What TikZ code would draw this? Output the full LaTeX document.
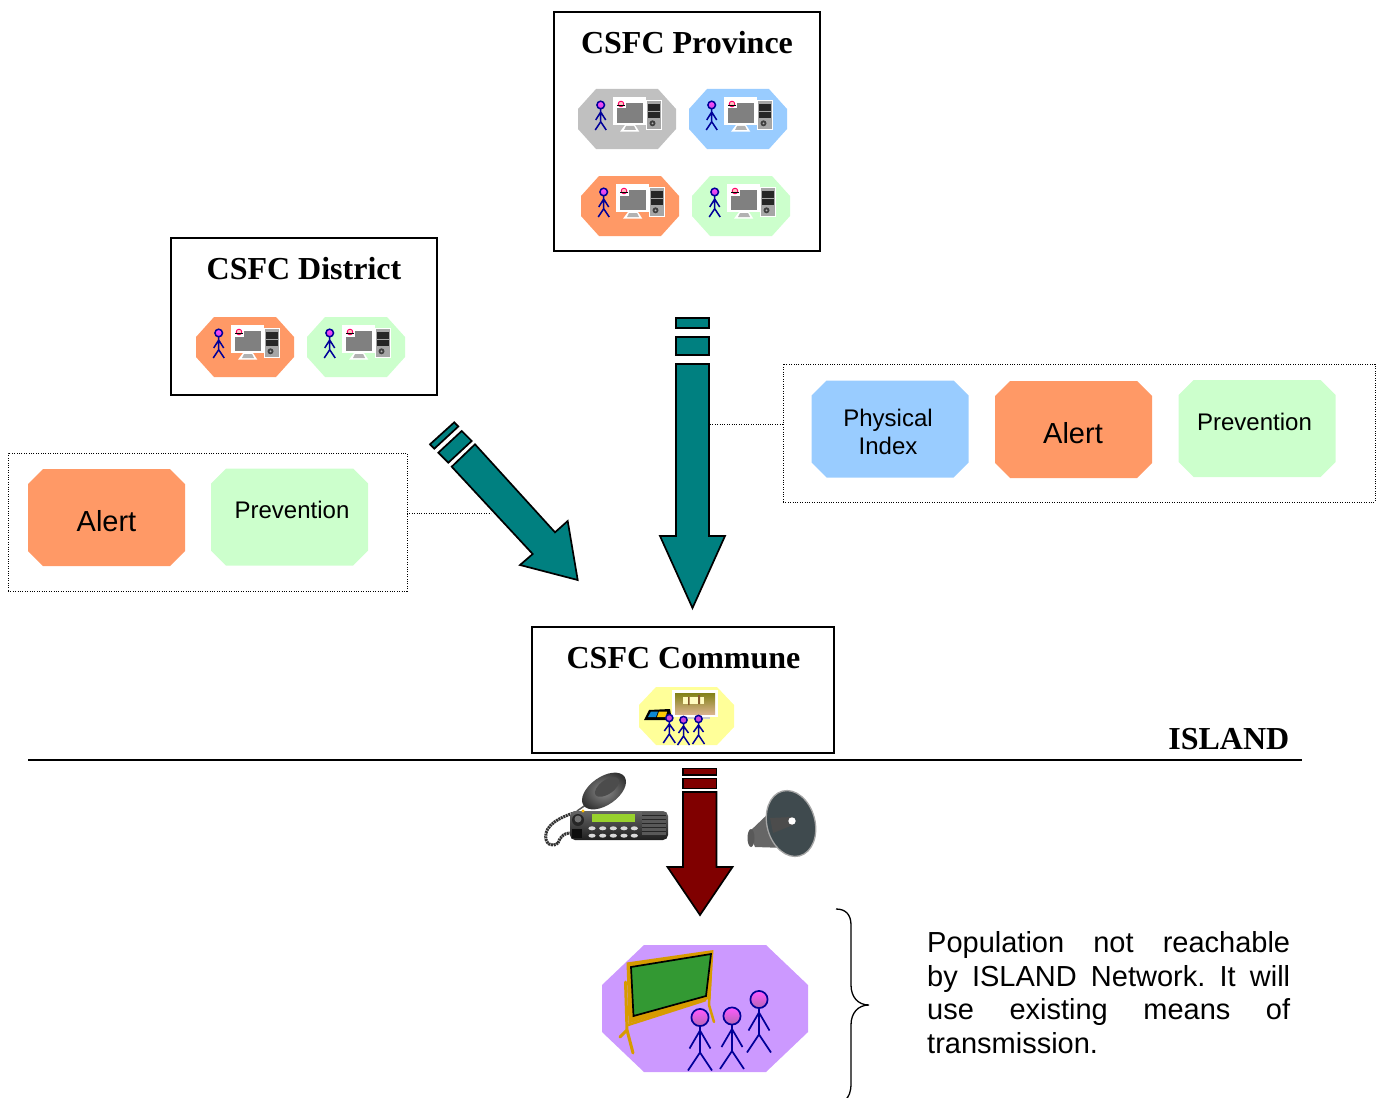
\documentclass[tikz,border=0pt]{standalone}
\usepackage{fontspec}
\setmainfont{Liberation Serif}
\setsansfont{Liberation Sans}
\definecolor{cOrange}{HTML}{FF9966}
\definecolor{cGreen}{HTML}{CCFFCC}
\definecolor{cBlue}{HTML}{99CCFF}
\definecolor{cGray}{HTML}{C0C0C0}
\definecolor{cPurple}{HTML}{CC99FF}
\definecolor{cYellow}{HTML}{FFFF99}
\definecolor{cTeal}{HTML}{008080}
\definecolor{cRed}{HTML}{800000}
\definecolor{cMan}{HTML}{000099}
\definecolor{cHead}{HTML}{CC44DD}
\definecolor{cGold}{HTML}{D79B00}
\definecolor{cBoard}{HTML}{339933}
\definecolor{cHorn}{HTML}{3F4A4E}
\newcommand{\ttl}{\fontsize{32}{36}\selectfont\bfseries}
\newcommand{\lab}{\sffamily\fontsize{24}{28.5}\selectfont}
\newcommand{\alrt}{\sffamily\fontsize{29}{32}\selectfont}
% name, x, y, width, height, chamfer x, chamfer y, colour
\newcommand{\octnode}[8]{%
  \fill[#8,shift={(#2,#3)}]
    ({-#4/2+#6},{-#5/2}) -- ({#4/2-#6},{-#5/2}) -- ({#4/2},{-#5/2+#7}) -- ({#4/2},{#5/2-#7})
    -- ({#4/2-#6},{#5/2}) -- ({-#4/2+#6},{#5/2}) -- ({-#4/2},{#5/2-#7}) -- ({-#4/2},{-#5/2+#7}) -- cycle;
  \node[inner sep=0pt,outer sep=0pt,minimum width=#4pt,minimum height=#5pt] (#1) at (#2,#3) {};
}
\tikzset{
  x=1pt,y=-1pt,
  lbl/.style={inner sep=0pt,align=center,text=black},
  titlebox/.style={draw=black,line width=1.8pt,fill=white,inner sep=0pt,outer sep=0pt},
  titletext/.style={inner sep=0pt,font=\ttl,anchor=base},
  dotbox/.style={draw=black,line width=1pt,dash pattern=on 1pt off 1.4pt,inner sep=0pt,outer sep=0pt},
  leader/.style={draw=black,line width=1pt,dash pattern=on 1pt off 1.4pt},
  blockarrow/.style={draw=black,line width=1.7pt,line join=miter},
  man/.style={draw=cMan,line width=1.5pt},
  pics/stick/.style={code={
    \draw[man] (0,-10)--(0,2.7) (-5,1)--(0,-7)--(5,1) (-5.5,11)--(0,2.7)--(5.5,11);
    \draw[man,top color=magenta!70!white,bottom color=cHead] (0,-14) circle (3.8);
  }},
  pics/bigstick/.style={code={
    \draw[draw=cMan,line width=1.7pt] (0,8)--(0,35) (-10.5,31)--(0,13)--(10.5,31) (-12,53)--(0,35)--(12,53);
    \draw[draw=cMan,line width=1.7pt,top color=magenta!65!white,bottom color=violet!60] (0,0) circle (8.6);
  }},
  pics/midstick/.style={code={
    \draw[draw=cMan,line width=1.5pt] (0,3)--(0,16) (-5,13)--(0,6)--(5,13) (-6,25)--(0,16)--(6,25);
    \draw[draw=cMan,line width=1.5pt,fill=cHead] (0,0) circle (3.6);
  }},
  pics/computer/.style={code={
    \fill[white] (-13.7,-21.7) rectangle (19,6);
    \fill[gray] (-10.3,-16.3) rectangle (15.7,3.7);
    \fill[white] (-2,6)--(8,6)--(12.3,12.7)--(-7,12.7)--cycle;
    \fill[gray!60] (-1,7)--(7,7)--(9,11)--(-3,11)--cycle;
    \fill[white] (19,-19.3) rectangle (34.7,11);
    \fill[gray!70] (20.3,-18) rectangle (33.5,10);
    \fill[black!85] (20.5,-15) rectangle (33,-8.3);
    \fill[black!85] (20.5,-6.7) rectangle (33,-1.3);
    \fill[black!75] (25.5,4.3) circle (3);
    \fill[white!70!black] (25.5,4.3) circle (1);
    \fill[white] (-13,-20.5) rectangle (-1,-10.5);
    \draw[draw=red!60!magenta,line width=.9pt,fill=pink] (-6,-15) circle (2.8);
    \draw[black,line width=.8pt] (-10,-13.5)--(-2.5,-13.5);
    \pic at (-26.3,0) {stick};
  }},
}
\begin{document}
\begin{tikzpicture}
\useasboundingbox (0,0) rectangle (1383,1097);

% ---------- title boxes
\node[titlebox,minimum width=266pt,minimum height=239pt] (province) at (687,131.5) {};
\node[titlebox,minimum width=266pt,minimum height=157pt] (district) at (304,316.5) {};
\node[titlebox,minimum width=302pt,minimum height=126pt] (commune) at (683,690) {};
\node[titletext] (provinceT) at (687,53.5) {CSFC Province};
\node[titletext] (districtT) at (304,279) {CSFC District};
\node[titletext] (communeT) at (683.5,668) {CSFC Commune};

% ---------- computer octagons
\octnode{p1}{627}{119}{98}{60}{18}{20}{cGray}
\octnode{p2}{738}{119}{98}{60}{18}{20}{cBlue}
\octnode{p3}{630}{206}{98}{60}{18}{20}{cOrange}
\octnode{p4}{741}{206}{98}{60}{18}{20}{cGreen}
\octnode{d1}{245}{347}{98}{60}{18}{20}{cOrange}
\octnode{d2}{356}{347}{98}{60}{18}{20}{cGreen}
\pic at (p1) {computer};
\pic at (p2) {computer};
\pic at (p3) {computer};
\pic at (p4) {computer};
\pic at (d1) {computer};
\pic at (d2) {computer};

% ---------- commune octagon
\octnode{c1}{686.5}{716}{95}{58}{17}{18}{cYellow}
\fill[white] (672,690) rectangle (718,717);
\fill[gray!40] (680,717) rectangle (710,719);
\shade[top color=olive!60!black!70,middle color=orange!30!white,bottom color=brown!60!white] (675,693) rectangle (715,714);
\fill[white!75!yellow] (683,697) rectangle (704,704);
\fill[brown!70!black] (688,697) rectangle (689.5,705) (698,695) rectangle (700,704);
\fill[black] (644,720) -- (649,710) -- (670,709) -- (672,720) -- cycle;
\fill[cyan!70!blue] (648,717) -- (651,711.5) -- (658,711.5) -- (656,717) -- cycle;
\fill[yellow!60!orange] (657,717) -- (659,711.5) -- (667,711.5) -- (666,717) -- cycle;
\pic at (669.3,718) {midstick};
\pic at (683.5,720) {midstick};
\pic at (698.5,719) {midstick};

% ---------- info boxes
\node[dotbox,minimum width=399pt,minimum height=138pt] (leftinfo) at (207.5,522) {};
\node[dotbox,minimum width=592pt,minimum height=138pt] (rightinfo) at (1079,433) {};
\octnode{alertL}{106.5}{517.5}{157}{97}{15}{15}{cOrange}
\octnode{prevL}{289.5}{517}{157}{97}{15}{15}{cGreen}
\octnode{phys}{890}{429}{157}{97}{15}{15}{cBlue}
\octnode{alertR}{1073.5}{429.5}{157}{97}{15}{15}{cOrange}
\octnode{prevR}{1257}{428.5}{157}{97}{15}{15}{cGreen}
\node[lbl,font=\alrt] (alertLT) at (106.5,521) {Alert};
\node[lbl,font=\lab] (prevLT) at (292,510) {Prevention};
\node[lbl,font=\lab] (physT) at (888,432) {Physical\\Index};
\node[lbl,font=\alrt] (alertRT) at (1073,433) {Alert};
\node[lbl,font=\lab] (prevRT) at (1254.5,421.5) {Prevention};

% ---------- dotted leaders
\coordinate (diagHit) at (491,513);
\coordinate (vertHit) at (710,424.5);
\draw[leader] (leftinfo.east |- diagHit) -- (diagHit);
\draw[leader] (vertHit) -- (rightinfo.west |- vertHit);

% ---------- teal arrows
\draw[blockarrow,fill=cTeal] (676,318) rectangle (709,328);
\draw[blockarrow,fill=cTeal] (676,337) rectangle (709,355);
\draw[blockarrow,fill=cTeal] (676,364)--(709,364)--(709,536)--(725,536)--(692.5,608)--(660,536)--(676,536)--cycle;
\draw[blockarrow,fill=cTeal] (454.3,422.3)--(458.3,426.5)--(434.3,448.7)--(430,444.3)--cycle;
\draw[blockarrow,fill=cTeal] (461.7,431)--(471.7,441)--(448.3,462.7)--(438.3,452.7)--cycle;
\draw[blockarrow,fill=cTeal] (475,444.3)--(555,532.3)--(567.7,521)--(577.7,580)--(520,565)--(532.7,554)--(451.7,466.7)--cycle;

% ---------- separator and label
\coordinate (sepL) at (28,760);
\coordinate (sepR) at (1302,760);
\draw[black,line width=1.8pt] (sepL) -- (sepR);
\node[inner sep=0pt,anchor=base east,font=\ttl] (island) at (1289.5,749) {ISLAND};

% ---------- red arrow
\draw[blockarrow,fill=cRed] (683,768.5) rectangle (716.5,775);
\draw[blockarrow,fill=cRed] (683,778.5) rectangle (716.5,788.5);
\draw[blockarrow,fill=cRed] (683,792)--(716.5,792)--(716.5,867)--(732.5,867)--(700,915)--(667.5,867)--(683,867)--cycle;

% ---------- radio
\draw[black!80,line width=3pt,dash pattern=on 2pt off .7pt] (578,812) .. controls (565,815) and (549,822) .. (546,833) .. controls (544,844) and (552,848) .. (558,843);
\draw[black!80,line width=3pt,dash pattern=on 2pt off .7pt] (558,843) .. controls (560,836) and (565,832) .. (575,833);
\draw[gray!70!black,line width=1.5pt] (577,811) -- (590,802);
\shade[inner color=black!45,outer color=black!80] (604,791) ellipse[x radius=25,y radius=14,rotate=35];
\fill[black!70] (607,787) ellipse[x radius=14,y radius=7,rotate=35];
\shade[top color=black!60,bottom color=black!88,rounded corners=5pt] (570,811) rectangle (668,840);
\fill[black!85] (578,820) circle (6);
\fill[black!55] (578,819) circle (3.5);
\fill[black!95] (572,829) rectangle (582,838);
\fill[green!35!yellow!65!gray] (592,813.5) rectangle (635,821.5);
\foreach \bx in {592,602.7,613.3,624,634.3}{
  \fill[white!85!black] (\bx,828.3) ellipse (3.6 and 2);
  \fill[white!85!black] (\bx,835.7) ellipse (3.6 and 2);
}
\fill[black!65] (641.7,812) rectangle (666,835);
\foreach \gy in {815,819,823,827,831}{\draw[black!85,line width=.6pt] (642,\gy)--(666,\gy);}
\fill[orange!50!yellow] (583,811) circle (1.6);

% ---------- loudspeaker
\fill[black!60] (749,832) -- (770,812) -- (786,848) -- (755,847) -- cycle;
\fill[gray!70!black] (751,838) ellipse (3.5 and 9);
\draw[gray!70,line width=1.3pt,fill=cHorn] (791,823.5) ellipse[x radius=24,y radius=33.5,rotate=15];
\fill[gray!60!black] (770,818)--(792,817)--(793,825)--(773,833)--cycle;
\fill[white] (792,821) circle (3.7);

% ---------- classroom octagon
\octnode{class}{705}{1008.5}{206}{127}{42}{40}{cPurple}
\draw[cGold,line width=3pt,line cap=round] (625.5,982)--(627,1030)--(620,1037) (627,1030)--(633,1053);
\draw[cGold,line width=2.5pt,line cap=round] (711,966)--(709,1005)--(714,1022);
\draw[cGold,line width=2.5pt] (628,1025)--(706,1000);
\draw[white!60!cGold,line width=1pt,densely dotted] (628,1022)--(706,998);
\fill[cGold] (626.5,962.5)--(713.5,950)--(710.5,998.5)--(628.5,1023.5)--cycle;
\draw[black,line width=1.7pt,fill=cBoard] (631,967)--(711,954)--(706,996)--(633.5,1016)--cycle;
\pic at (700,1017.5) {bigstick};
\pic at (732,1016) {bigstick};
\pic at (759,999.5) {bigstick};

% ---------- brace and note
\coordinate (braceTop) at (836,909);
\coordinate (braceTip) at (869,1005);
\coordinate (braceEnd) at (845,1100);
\draw[black,line width=1.3pt] (braceTop) .. controls (846,909) and (851,915) .. (851,925) -- (851,985) .. controls (851,997) and (858,1005) .. (braceTip) .. controls (858,1005) and (851,1013) .. (851,1025) -- (851,1083) .. controls (851,1092) and (849,1097) .. (braceEnd);
\node[inner sep=0pt,anchor=north west,text width=363pt,align=justify,font=\sffamily\fontsize{29}{33.5}\selectfont] (note) at (927,931.5) {\frenchspacing Population not reachable\linebreak by ISLAND Network. It will\linebreak use existing means of\linebreak transmission.};
\end{tikzpicture}
\end{document}
